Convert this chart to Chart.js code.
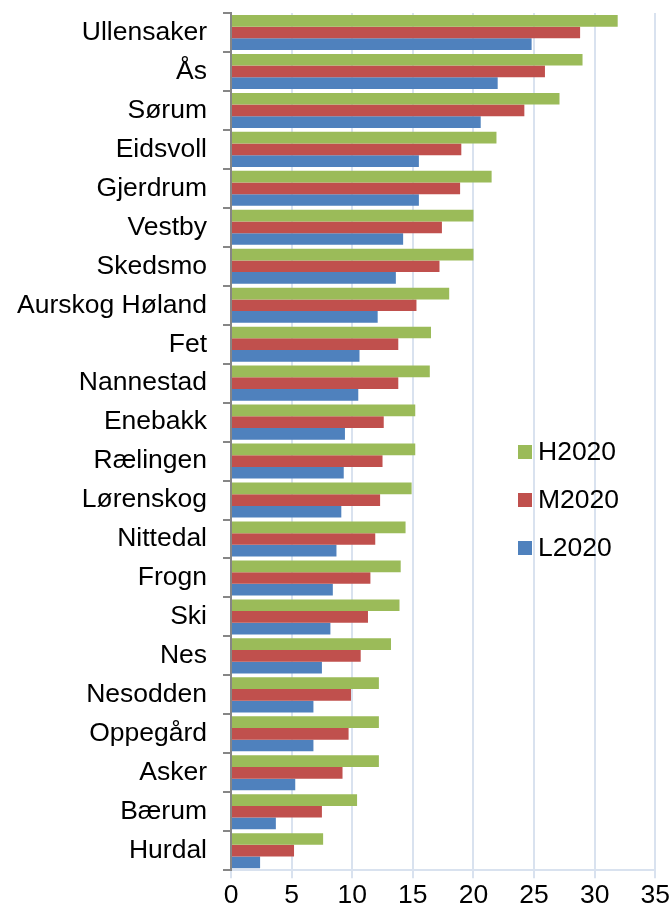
<!DOCTYPE html>
<html>
<head>
<meta charset="utf-8">
<script src="https://cdn.jsdelivr.net/npm/chart.js@4/dist/chart.umd.min.js"></script>
<style>
  body { margin: 0; background: #fff; }
  #wrap { width: 672px; height: 914px; position: relative; }
</style>
</head>
<body>
<div id="wrap"><canvas id="myCanvas"></canvas></div>
<script>
'use strict';

// data
var municipalities = ['Ullensaker', 'Ås', 'Sørum', 'Eidsvoll', 'Gjerdrum', 'Vestby', 'Skedsmo',
    'Aurskog Høland', 'Fet', 'Nannestad', 'Enebakk', 'Rælingen', 'Lørenskog', 'Nittedal',
    'Frogn', 'Ski', 'Nes', 'Nesodden', 'Oppegård', 'Asker', 'Bærum', 'Hurdal'];

var h2020 = [31.9, 29.0, 27.1, 21.9, 21.5, 20.0, 20.0, 18.0, 16.5, 16.4, 15.2, 15.2,
    14.9, 14.4, 14.0, 13.9, 13.2, 12.2, 12.2, 12.2, 10.4, 7.6];
var m2020 = [28.8, 25.9, 24.2, 19.0, 18.9, 17.4, 17.2, 15.3, 13.8, 13.8, 12.6, 12.5,
    12.3, 11.9, 11.5, 11.3, 10.7, 9.9, 9.7, 9.2, 7.5, 5.2];
var l2020 = [24.8, 22.0, 20.6, 15.5, 15.5, 14.2, 13.6, 12.1, 10.6, 10.5, 9.4, 9.3,
    9.1, 8.7, 8.4, 8.2, 7.5, 6.8, 6.8, 5.3, 3.7, 2.4];

var xTicks = [0, 5, 10, 15, 20, 25, 30, 35];

var fontFamily = '"Liberation Sans", Arial, sans-serif';
var fontSize = 26.5;
var gridBlue = '#d9e2ef';
var axisGray = '#868686';

// legend drawn inside the plot, like the original
var insideLegend = {
    id: 'insideLegend',
    afterDraw: function (chart) {
        var c = chart.ctx,
            area = chart.chartArea,
            x = area.left + 287,
            y = area.top + 439;
        c.save();
        c.font = fontSize + 'px ' + fontFamily;
        c.textBaseline = 'middle';
        chart.data.datasets.forEach(function (ds, i) {
            var cy = y + i * 48;
            c.fillStyle = ds.backgroundColor;
            c.fillRect(x, cy - 7, 14, 14);
            c.fillStyle = '#000';
            c.fillText(ds.label, x + 20, cy + 1);
        });
        c.restore();
    }
};

var ctx = document.getElementById('myCanvas').getContext('2d');
var myBarChart = new Chart(ctx, {
    type: 'bar',
    data: {
        labels: municipalities,
        datasets: [
            { label: 'H2020', data: h2020, backgroundColor: '#9bbb59' },
            { label: 'M2020', data: m2020, backgroundColor: '#c0504d' },
            { label: 'L2020', data: l2020, backgroundColor: '#4f81bd' }
        ]
    },
    options: {
        indexAxis: 'y',
        responsive: true,
        maintainAspectRatio: false,
        animation: false,
        layout: {
            padding: { top: 13, left: 1, right: 2, bottom: 0 }
        },
        datasets: {
            bar: { categoryPercentage: 0.9, barPercentage: 1.0 }
        },
        plugins: {
            legend: { display: false },
            tooltip: { enabled: false }
        },
        scales: {
            x: {
                min: 0,
                max: 35,
                afterBuildTicks: function (axis) {
                    axis.ticks = xTicks.map(function (v) { return { value: v }; });
                },
                grid: {
                    color: gridBlue,
                    lineWidth: 2,
                    tickLength: 8
                },
                border: { color: gridBlue, width: 2 },
                ticks: {
                    color: '#000',
                    padding: 2,
                    maxRotation: 0,
                    font: { family: fontFamily, size: fontSize }
                }
            },
            y: {
                // the label half-heights should not push the plot down
                afterFit: function (scale) {
                    scale.paddingTop = 0;
                    scale.paddingBottom = 0;
                },
                grid: {
                    offset: true,
                    drawOnChartArea: false,
                    color: axisGray,
                    lineWidth: 2,
                    tickLength: 8
                },
                border: { color: axisGray, width: 2 },
                ticks: {
                    color: '#000',
                    padding: 16,
                    autoSkip: false,
                    font: { family: fontFamily, size: fontSize }
                }
            }
        }
    },
    plugins: [insideLegend]
});
</script>
</body>
</html>
